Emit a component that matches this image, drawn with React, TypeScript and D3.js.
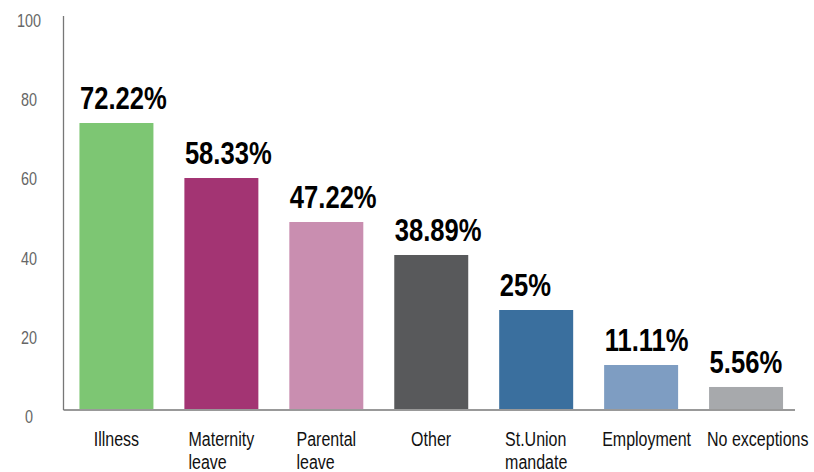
import React, { useRef, useEffect } from 'react';
import * as d3 from 'd3';

// data
const categories = ['Illness', 'Maternity\nleave', 'Parental\nleave', 'Other', 'St.Union\nmandate', 'Employment', 'No exceptions'];
const values = [72.22, 58.33, 47.22, 38.89, 25, 11.11, 5.56];
const valueLabels = ['72.22%', '58.33%', '47.22%', '38.89%', '25%', '11.11%', '5.56%'];
const colors = ['#7dc673', '#a33473', '#c98eb0', '#58595b', '#3a6f9e', '#7e9dc2', '#a7a9ac'];
const yTicks = [0, 20, 40, 60, 80, 100];

const FONT = "'Liberation Sans', Arial, sans-serif";
const SQUEEZE = 0.8; // fake a condensed face

const BarChart = () => {
  const svgRef = useRef<SVGSVGElement>(null);

  useEffect(() => {
    const svg = d3.select(svgRef.current);
    svg.selectAll('*').remove();

    const axisX = 63.5;
    const axisY = 410;

    // Scales
    const x = d3.scaleBand<number>()
      .domain(d3.range(categories.length))
      .range([axisX, 799])
      .paddingInner(0.295)
      .paddingOuter(0.152);

    const y = d3.scaleLinear()
      .domain([0, 100])
      .range([409, 13]);

    // Axis lines
    svg.append('line')
      .attr('x1', axisX).attr('x2', axisX)
      .attr('y1', 16).attr('y2', axisY)
      .attr('stroke', '#777').attr('stroke-width', 1.3);

    svg.append('line')
      .attr('x1', axisX).attr('x2', 795)
      .attr('y1', axisY).attr('y2', axisY)
      .attr('stroke', '#777').attr('stroke-width', 1.3);

    // Y tick labels (centered, set a little below the value)
    svg.append('g')
      .selectAll('text')
      .data(yTicks)
      .join('text')
      .attr('transform', d => `translate(29,${y(d) + 14}) scale(${SQUEEZE},1)`)
      .attr('text-anchor', 'middle')
      .style('font-family', FONT)
      .style('font-size', '18px')
      .style('fill', '#666')
      .text(d => d);

    // Bars
    svg.append('g')
      .selectAll('rect')
      .data(values)
      .join('rect')
      .attr('x', (d, i) => x(i)!)
      .attr('y', d => y(d))
      .attr('width', x.bandwidth())
      .attr('height', d => y(0) - y(d))
      .attr('fill', (d, i) => colors[i]);

    // Value labels
    svg.append('g')
      .selectAll('text')
      .data(values)
      .join('text')
      .attr('transform', (d, i) => `translate(${x(i)! + 0.5},${y(d) - 14}) scale(${SQUEEZE},1)`)
      .style('font-family', FONT)
      .style('font-size', '32px')
      .style('font-weight', 'bold')
      .style('fill', '#000')
      .text((d, i) => valueLabels[i]);

    // Category labels: block centred under bar, lines left aligned
    categories.forEach((cat, i) => {
      const lines = cat.split('\n');
      const t = svg.append('text')
        .style('font-family', FONT)
        .style('font-size', '20px')
        .style('fill', '#111');
      lines.forEach((ln, j) => {
        t.append('tspan').attr('x', 0).attr('dy', j === 0 ? 0 : 23).text(ln);
      });
      const w = (t.node() as SVGTextElement).getBBox().width * SQUEEZE;
      const bx = x(i)!;
      const bw = x.bandwidth();
      const startX = w > bw ? bx - 2 : bx + (bw - w) / 2;
      t.attr('transform', `translate(${startX},446) scale(${SQUEEZE},1)`);
    });

  }, []);

  return (
    <svg ref={svgRef} width={814} height={472}
      style={{ position: 'absolute', left: 0, top: 0, background: '#fff' }} />
  );
};

export default function App() {
  return <BarChart />;
}
